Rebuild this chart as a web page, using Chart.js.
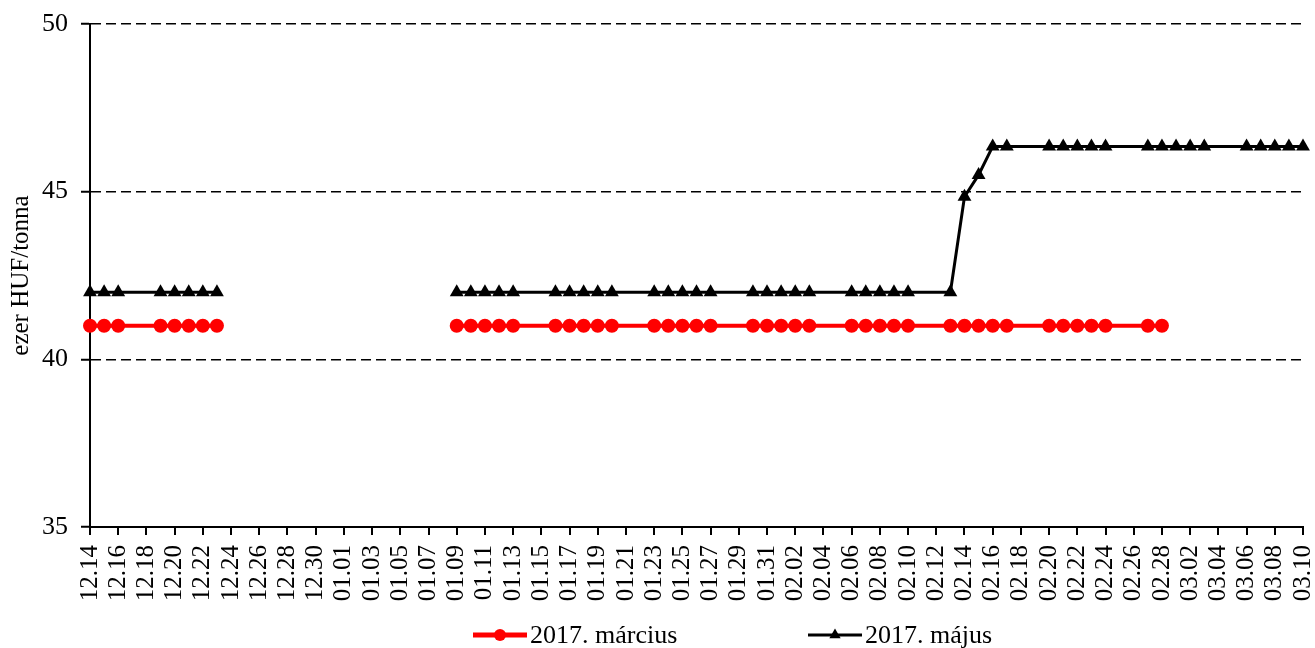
<!DOCTYPE html>
<html>
<head>
<meta charset="utf-8">
<script src="https://cdn.jsdelivr.net/npm/chart.js@4.4.0/dist/chart.umd.min.js"></script>
<style>
    html, body { margin: 0; padding: 0; background: #fff; overflow: hidden; }
    #doboz { width: 1315px; height: 648px; }
</style>
</head>
<body>
<div id="doboz"><canvas id="arChart" width="1315" height="648"></canvas></div>
<script>
// --- Adatok ---

// minden naptári nap a vízszintes tengelyen
const napok = [
    '12.14', '12.15', '12.16', '12.17', '12.18', '12.19', '12.20', '12.21', '12.22', '12.23',
    '12.24', '12.25', '12.26', '12.27', '12.28', '12.29', '12.30', '12.31',
    '01.01', '01.02', '01.03', '01.04', '01.05', '01.06', '01.07', '01.08', '01.09', '01.10',
    '01.11', '01.12', '01.13', '01.14', '01.15', '01.16', '01.17', '01.18', '01.19', '01.20',
    '01.21', '01.22', '01.23', '01.24', '01.25', '01.26', '01.27', '01.28', '01.29', '01.30', '01.31',
    '02.01', '02.02', '02.03', '02.04', '02.05', '02.06', '02.07', '02.08', '02.09', '02.10',
    '02.11', '02.12', '02.13', '02.14', '02.15', '02.16', '02.17', '02.18', '02.19', '02.20',
    '02.21', '02.22', '02.23', '02.24', '02.25', '02.26', '02.27', '02.28',
    '03.01', '03.02', '03.03', '03.04', '03.05', '03.06', '03.07', '03.08', '03.09', '03.10'
];

// kereskedési napok, amelyekre van jegyzés
const kereskedesiNapok = [
    '12.14', '12.15', '12.16', '12.19', '12.20', '12.21', '12.22', '12.23',
    '01.09', '01.10', '01.11', '01.12', '01.13',
    '01.16', '01.17', '01.18', '01.19', '01.20',
    '01.23', '01.24', '01.25', '01.26', '01.27',
    '01.30', '01.31', '02.01', '02.02', '02.03',
    '02.06', '02.07', '02.08', '02.09', '02.10',
    '02.13', '02.14', '02.15', '02.16', '02.17',
    '02.20', '02.21', '02.22', '02.23', '02.24',
    '02.27', '02.28', '03.01', '03.02', '03.03',
    '03.06', '03.07', '03.08', '03.09', '03.10'
];

// ezer HUF/tonna
const marcius = [
    41, 41, 41, 41, 41, 41, 41, 41,
    41, 41, 41, 41, 41,
    41, 41, 41, 41, 41,
    41, 41, 41, 41, 41,
    41, 41, 41, 41, 41,
    41, 41, 41, 41, 41,
    41, 41, 41, 41, 41,
    41, 41, 41, 41, 41,
    41, 41, null, null, null,
    null, null, null, null, null
];

const majus = [
    42, 42, 42, 42, 42, 42, 42, 42,
    42, 42, 42, 42, 42,
    42, 42, 42, 42, 42,
    42, 42, 42, 42, 42,
    42, 42, 42, 42, 42,
    42, 42, 42, 42, 42,
    42, 44.85, 45.5, 46.35, 46.35,
    46.35, 46.35, 46.35, 46.35, 46.35,
    46.35, 46.35, 46.35, 46.35, 46.35,
    46.35, 46.35, 46.35, 46.35, 46.35
];

const sorozatNevek = ['2017. március', '2017. május'];
const yTengelyErtekek = [35, 40, 45, 50];
const tengelyCim = 'ezer HUF/tonna';

// --- Segédfüggvények ---

// csak a jegyzett napok kerülnek be, így a hétvégéket átíveli a vonal,
// az ünnepi szünetet (spanGaps-nél hosszabb rés) viszont nem
function pontok(ertekek) {
    return kereskedesiNapok
        .map((nap, i) => ({ x: nap, y: ertekek[i] }))
        .filter(p => p.y !== null);
}

// saját jelmagyarázat: vonal + jelölő, ahogy az Excel rajzolja
const jelmagyarazat = {
    id: 'jelmagyarazat',
    afterDraw(chart, args, opts) {
        const ctx = chart.ctx;
        ctx.save();
        chart.data.datasets.forEach((ds, i) => {
            const x = opts.kezdoX[i];
            const y = opts.y;
            ctx.strokeStyle = ds.borderColor;
            ctx.lineWidth = opts.vonalVastagsag[i];
            ctx.beginPath();
            ctx.moveTo(x, y);
            ctx.lineTo(x + opts.hossz, y);
            ctx.stroke();
            ctx.fillStyle = ds.pointBackgroundColor;
            Chart.helpers.drawPoint(ctx, {
                pointStyle: ds.pointStyle,
                radius: opts.sugar[i],
                borderWidth: 0,
                rotation: 0
            }, x + opts.hossz / 2, y);
            ctx.fillStyle = '#000';
            ctx.font = '26px "Liberation Serif", "Times New Roman", serif';
            ctx.textBaseline = 'middle';
            ctx.textAlign = 'left';
            ctx.fillText(ds.label, x + opts.hossz + 3, y + 1);
        });
        ctx.restore();
    }
};

// --- Grafikon ---

Chart.defaults.font.family = '"Liberation Serif", "Times New Roman", serif';
Chart.defaults.color = '#000';

const ctx = document.getElementById('arChart').getContext('2d');

new Chart(ctx, {
    type: 'line',
    data: {
        labels: napok,
        datasets: [
            {
                label: sorozatNevek[0],
                data: pontok(marcius),
                borderColor: '#ff0000',
                backgroundColor: '#ff0000',
                pointBackgroundColor: '#ff0000',
                borderWidth: 4,
                pointStyle: 'circle',
                pointRadius: 7,
                pointBorderWidth: 0,
                tension: 0,
                spanGaps: 4
            },
            {
                label: sorozatNevek[1],
                data: pontok(majus),
                borderColor: '#000000',
                backgroundColor: '#000000',
                pointBackgroundColor: '#000000',
                borderWidth: 3,
                pointStyle: 'triangle',
                pointRadius: 8,
                pointBorderWidth: 0,
                tension: 0,
                spanGaps: 4
            }
        ]
    },
    options: {
        responsive: false,
        animation: false,
        events: [],
        layout: {
            padding: { top: 24, right: 12, bottom: 35, left: 0 }
        },
        plugins: {
            legend: { display: false },
            tooltip: { enabled: false },
            jelmagyarazat: {
                kezdoX: [473, 808],
                y: 635,
                hossz: 54,
                vonalVastagsag: [5, 3],
                sugar: [6, 6.5]
            }
        },
        scales: {
            x: {
                type: 'category',
                afterFit: function (scale) {
                    scale.height = 86;
                    scale.paddingLeft = 0;
                    scale.paddingRight = 0;
                },
                grid: {
                    drawOnChartArea: false,
                    drawTicks: true,
                    tickLength: 8,
                    lineWidth: 2,
                    tickWidth: 2,
                    tickColor: function (c) { return c.index % 2 === 0 ? '#000' : 'rgba(0,0,0,0)'; }
                },
                border: { color: '#000', width: 2 },
                ticks: {
                    autoSkip: false,
                    minRotation: 90,
                    maxRotation: 90,
                    padding: 10,
                    font: { size: 25, lineHeight: 1 },
                    callback: function (value, index) {
                        return index % 2 === 0 ? napok[index] : '';
                    }
                }
            },
            y: {
                min: yTengelyErtekek[0],
                max: yTengelyErtekek[yTengelyErtekek.length - 1],
                afterFit: function (scale) {
                    scale.width = 90;
                    scale.paddingTop = 0;
                    scale.paddingBottom = 0;
                },
                grid: {
                    color: '#000',
                    lineWidth: 1.5,
                    drawTicks: true,
                    tickLength: 9,
                    tickWidth: 2,
                    tickColor: '#000'
                },
                border: { color: '#000', width: 2, dash: [10, 5] },
                ticks: {
                    stepSize: yTengelyErtekek[1] - yTengelyErtekek[0],
                    padding: 13,
                    font: { size: 26 }
                },
                title: {
                    display: true,
                    text: tengelyCim,
                    font: { size: 25 },
                    padding: { top: 6, bottom: 0 }
                }
            }
        }
    },
    plugins: [jelmagyarazat]
});
</script>
</body>
</html>
